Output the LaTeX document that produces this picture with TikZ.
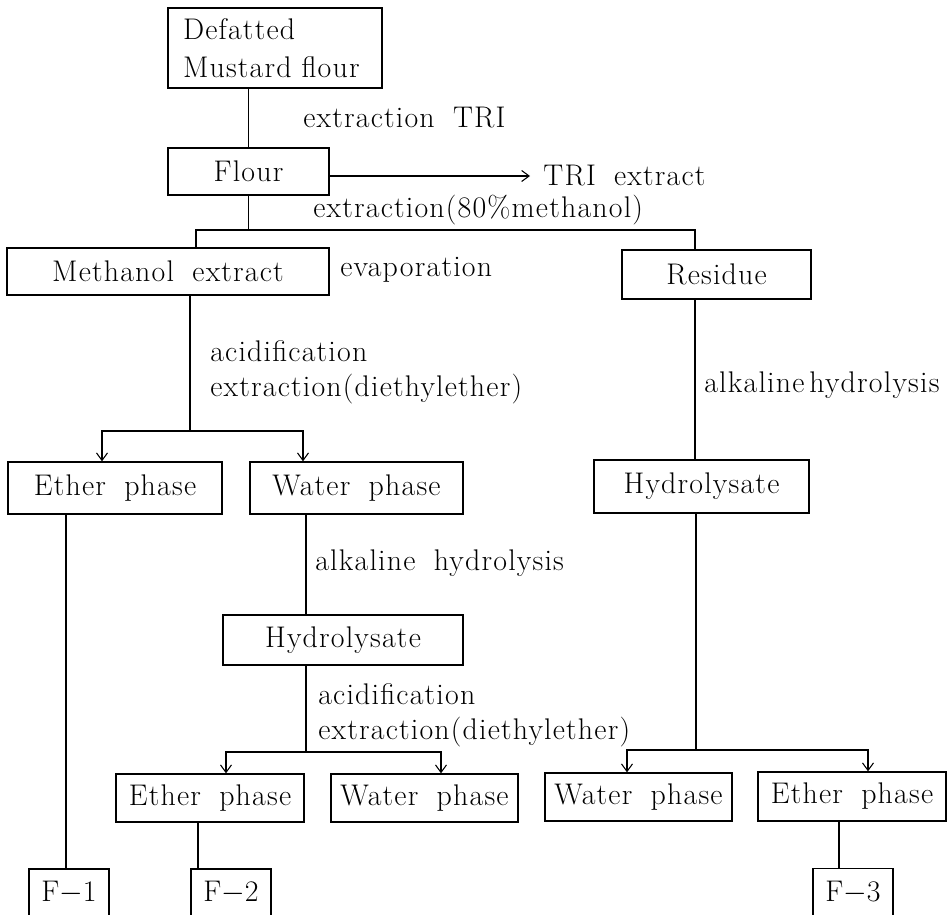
\documentclass[tikz,border=0pt]{standalone}
\usepackage{fontspec}
\setmainfont{Latin Modern Roman}[LetterSpace=4, WordSpace=1.8]
\usetikzlibrary{arrows.meta, calc}

\begin{document}
\begin{tikzpicture}[
    x=0.02cm, y=-0.02cm,
    font=\fontsize{17}{21.6}\selectfont,
    line/.style={
        line width=0.6pt
    },
    arrow/.style={
        -{Straight Barb[length=1.5mm,width=2.2mm]},
        line width=0.6pt
    },
    proc_box/.style={
        rectangle,
        draw,
        line width=0.8pt,
        inner sep=0pt,
        align=center
    },
    label_text/.style={
        anchor=west,
        inner sep=0pt,
        align=left,
        font=\fontsize{17}{20}\selectfont
    }
]

    \useasboundingbox (0,0) rectangle (951,915);

    % Start material
    \node[proc_box, minimum width=4.28cm, minimum height=1.6cm, text width=3.68cm, align=left] (defatted) at (275,48) {Defatted\\Mustard flour};
    \node[proc_box, minimum width=3.22cm, minimum height=0.94cm] (flour) at (248.5,171.5) {Flour};
    \draw[line] (defatted.south -| flour.north) -- (flour.north);
    \node[label_text] (ex_tri) at (303,118) {extraction TRI};

    \node[label_text] (tri_extract) at (543,176) {TRI extract};
    \draw[arrow, shorten >=0.26cm] (flour.east |- tri_extract.west) -- (tri_extract.west);

    % First split
    \node[label_text] (ex_meth) at (313,210) {extraction(80\%methanol)};
    \node[proc_box, minimum width=6.44cm, minimum height=0.94cm] (methanol) at (168,271.5) {Methanol extract};
    \node[label_text] (evap) at (340,270) {evaporation};
    \node[proc_box, minimum width=3.78cm, minimum height=0.98cm] (residue) at (716.5,274.5) {Residue};

    \coordinate (jl) at (196,230);
    \coordinate (jr) at (695,230);
    \draw[line] (flour.south) -- (flour.south |- jl);
    \draw[line] (methanol.north -| jl) -- (jl) -- (jr) -- (residue.north -| jr);

    % Methanol extract branch
    \node[label_text] (acid_a) at (210,372.5) {acidification\\extraction(diethylether)};
    \node[proc_box, minimum width=4.28cm, minimum height=1.04cm] (ether_a) at (115,488) {Ether phase};
    \node[proc_box, minimum width=4.26cm, minimum height=1.04cm] (water_a) at (356.5,488) {Water phase};

    \coordinate (sp_a) at (190,431);
    \coordinate (sp_al) at (102,431);
    \coordinate (sp_ar) at (303,431);
    \draw[line] (methanol.south -| sp_a) -- (sp_a);
    \draw[arrow] (sp_a) -| (ether_a.north -| sp_al);
    \draw[arrow] (sp_a) -| (water_a.north -| sp_ar);

    % Water phase branch
    \coordinate (c_mid) at (306,0);
    \node[label_text] (alk_a) at (315,563) {alkaline hydrolysis};
    \node[proc_box, minimum width=4.8cm, minimum height=1.0cm] (hydro_a) at (343,640) {Hydrolysate};
    \draw[line] (water_a.south -| c_mid) -- (hydro_a.north -| c_mid);

    \node[label_text] (acid_b) at (318,715.5) {acidification\\extraction(diethylether)};
    \node[proc_box, minimum width=3.76cm, minimum height=0.96cm] (ether_b) at (210,798) {Ether phase};
    \node[proc_box, minimum width=3.74cm, minimum height=0.96cm] (water_b) at (424.5,798) {Water phase};

    \coordinate (sp_b) at (306,752);
    \coordinate (sp_bl) at (226,752);
    \coordinate (sp_br) at (441,752);
    \draw[line] (hydro_a.south -| sp_b) -- (sp_b);
    \draw[arrow] (sp_b) -| (ether_b.north -| sp_bl);
    \draw[arrow] (sp_b) -| (water_b.north -| sp_br);

    % Residue branch
    \coordinate (c_right) at (695,0);
    \node[label_text] (alk_b) at (704,385) {alkaline\,hydrolysis};
    \node[proc_box, minimum width=4.3cm, minimum height=1.06cm] (hydro_b) at (701.5,486.5) {Hydrolysate};
    \draw[line] (residue.south -| c_right) -- (hydro_b.north -| c_right);

    \node[proc_box, minimum width=3.74cm, minimum height=0.96cm] (water_c) at (638.5,797) {Water phase};
    \node[proc_box, minimum width=3.76cm, minimum height=0.98cm] (ether_c) at (852,796.5) {Ether phase};

    \coordinate (sp_c) at (696,750);
    \coordinate (sp_cl) at (627,750);
    \coordinate (sp_cr) at (868,750);
    \draw[line] (hydro_b.south -| sp_c) -- (sp_c);
    \draw[arrow] (sp_c) -| (water_c.north -| sp_cl);
    \draw[arrow] (sp_c) -| (ether_c.north -| sp_cr);

    % Fractions
    \node[proc_box, minimum width=1.6cm, minimum height=0.96cm] (f1) at (69,893) {F$-$1};
    \node[proc_box, minimum width=1.6cm, minimum height=0.96cm] (f2) at (231,893) {F$-$2};
    \node[proc_box, minimum width=1.6cm, minimum height=0.96cm] (f3) at (853,892.5) {F$-$3};

    \coordinate (c1) at (66,0);
    \coordinate (c2) at (198,0);
    \coordinate (c3) at (839,0);
    \draw[line] (ether_a.south -| c1) -- (f1.north -| c1);
    \draw[line] (ether_b.south -| c2) -- (f2.north -| c2);
    \draw[line] (ether_c.south -| c3) -- (f3.north -| c3);

\end{tikzpicture}
\end{document}
